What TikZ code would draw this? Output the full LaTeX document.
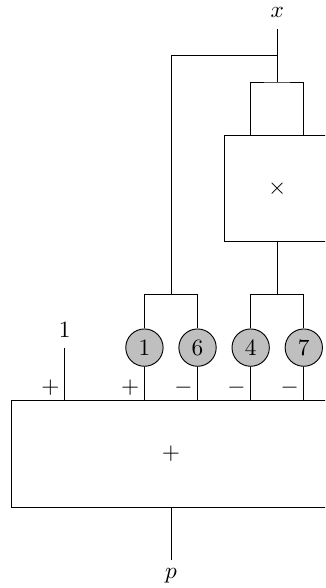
\documentclass[tikz,border=0pt]{standalone}
\usepackage{amsmath,amssymb}
\usepackage{tikz}
\usetikzlibrary{positioning,calc}
\usepackage{xcolor}
\definecolor{coeffill}{gray}{0.75}

\tikzset{
  opbox/.style={draw, rectangle, inner sep=0pt},
  coef/.style={draw, circle, fill=coeffill, minimum size=16pt, inner sep=0pt},
  sgn/.style={anchor=south east, inner sep=2pt}
}

\begin{document}
\begin{tikzpicture}
  \useasboundingbox (-2.575,-1.22) rectangle (2.32,7.635);
  \clip (-2.575,-1.22) rectangle (2.32,7.635);

  % operator boxes
  \node[opbox, minimum width=4.8cm, minimum height=1.6cm] (sum) at (0,0.8) {$+$};
  \node[opbox, minimum width=1.6cm, minimum height=1.6cm] (mult) at (1.6,4.8) {$\times$};

  % coefficients
  \foreach \cx/\cv in {-0.4/1, 0.4/6, 1.2/4, 2.0/7}
    \node[coef] (c\cv) at (\cx,2.4) {$\cv$};

  % input, constant and output
  \coordinate (xin) at (1.6,7.2);
  \node[above=1.5pt] (x) at (xin) {$x$};
  \coordinate (onein) at (-1.6,2.4);
  \node[above=1pt] (one) at (onein) {$1$};
  \coordinate (pout) at (0,-0.8);
  \node[below] (p) at (pout) {$p$};

  % branch points
  \coordinate (xsplit) at (1.6,6.8);
  \coordinate (sqfork) at (1.6,6.4);
  \coordinate (linfork) at (0,3.2);
  \coordinate (quadfork) at (1.6,3.2);

  % wiring
  \draw (xin) -- (sqfork);
  \draw (xsplit) -| (linfork);
  \draw (mult.north -| c4) |- (sqfork) -| (mult.north -| c7);
  \draw (mult.south) -- (quadfork);
  \draw (c1.north) |- (linfork) -| (c6.north);
  \draw (c4.north) |- (quadfork) -| (c7.north);
  \draw (onein) -- (onein |- sum.north);
  \foreach \cv in {1,6,4,7}
    \draw (c\cv.south) -- (c\cv.south |- sum.north);
  \draw (sum.south) -- (pout);

  % signs
  \node[sgn] (sone) at (onein |- sum.north) {$+$};
  \node[sgn] (s1) at (c1.south |- sum.north) {$+$};
  \node[sgn] (s6) at (c6.south |- sum.north) {$-$};
  \node[sgn] (s4) at (c4.south |- sum.north) {$-$};
  \node[sgn] (s7) at (c7.south |- sum.north) {$-$};
\end{tikzpicture}
\end{document}
